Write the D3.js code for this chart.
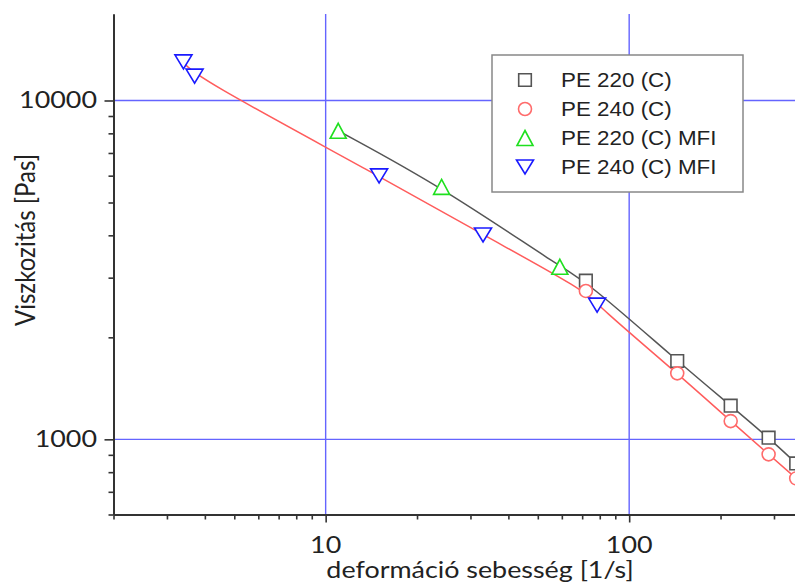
<!DOCTYPE html>
<html>
<head>
<meta charset="utf-8">
<script src="https://cdn.jsdelivr.net/npm/d3@7"></script>
<style>
  body { margin: 0; background: #fff; }
  svg { display: block; }
</style>
</head>
<body>
<svg id="chart" width="795" height="584"></svg>
<script>
/* global d3 */

// shear rate [1/s] and viscosity [Pas]
const pe220Rate = [72, 144, 216, 288, 355];
const pe220Visc = [2940, 1703, 1257, 1011, 849];
const pe240Rate = [72, 144, 216, 288, 355];
const pe240Visc = [2741, 1566, 1132, 903, 767];
const pe220MfiRate = [11.0, 24.1, 59.1];
const pe220MfiVisc = [8140, 5560, 3230];
const pe240MfiRate = [3.4, 3.7, 15.0, 33.0, 78.4];
const pe240MfiVisc = [13000, 11800, 5990, 4010, 2490];

const xMajor = [10, 100];
const xMinor = [2, 3, 4, 5, 6, 7, 8, 9, 20, 30, 40, 50, 60, 70, 80, 90, 200, 300, 400, 500];
const yMajor = [1000, 10000];
const yMinor = [600, 700, 800, 900, 2000, 3000, 4000, 5000, 6000, 7000, 8000, 9000];

const legendLabels = ['PE 220 (C)', 'PE 240 (C)', 'PE 220 (C) MFI', 'PE 240 (C) MFI'];

const svg = d3.select('#chart');
const x = d3.scaleLog().domain([2, 520]).range([113.5, 846.5]);
const y = d3.scaleLog().domain([600, 18000]).range([514.5, 14]);
const stretch = 1.12; // text in the picture is a bit wide

const gridColor = 'rgb(100, 100, 255)';
const axisColor = '#333';

// grid
const grid = svg.append('g');
grid.selectAll('line.gx').data(xMajor).enter().append('line')
  .attr('x1', d => x(d)).attr('x2', d => x(d))
  .attr('y1', y.range()[0]).attr('y2', y.range()[1])
  .attr('stroke', gridColor).attr('stroke-width', 1.4);
grid.selectAll('line.gy').data(yMajor).enter().append('line')
  .attr('x1', x.range()[0]).attr('x2', x.range()[1])
  .attr('y1', d => y(d)).attr('y2', d => y(d))
  .attr('stroke', gridColor).attr('stroke-width', 1.4);

// fitted curves
const zip = (xs, ys) => xs.map((v, i) => [v, ys[i]]);
const line = d3.line().x(d => x(d[0])).y(d => y(d[1])).curve(d3.curveBasis);
const fit220 = zip(pe220MfiRate, pe220MfiVisc).concat(zip(pe220Rate, pe220Visc))
  .sort((a, b) => a[0] - b[0]);
const fit240 = zip(pe240MfiRate, pe240MfiVisc).concat(zip(pe240Rate, pe240Visc))
  .sort((a, b) => a[0] - b[0]);
svg.append('path').datum(fit220).attr('d', line)
  .attr('fill', 'none').attr('stroke', '#555').attr('stroke-width', 1.5);
svg.append('path').datum(fit240).attr('d', line)
  .attr('fill', 'none').attr('stroke', '#ff5c5c').attr('stroke-width', 1.5);

// markers
const shapes = {
  square: 'M-6.3,-6.3H6.3V6.3H-6.3Z',
  circle: d3.symbol(d3.symbolCircle, Math.PI * 6.5 * 6.5)(),
  up: 'M0,-7.5L8,7.5L-8,7.5Z',
  down: 'M-8.5,-7L8.5,-7L0,7Z',
};
const series = [
  { rate: pe220Rate, visc: pe220Visc, shape: 'square', color: '#555' },
  { rate: pe240Rate, visc: pe240Visc, shape: 'circle', color: '#ff6b6b' },
  { rate: pe220MfiRate, visc: pe220MfiVisc, shape: 'up', color: '#1ee01e' },
  { rate: pe240MfiRate, visc: pe240MfiVisc, shape: 'down', color: '#1a1aff' },
];
series.forEach((s) => {
  svg.append('g').selectAll('path').data(zip(s.rate, s.visc)).enter().append('path')
    .attr('d', shapes[s.shape])
    .attr('transform', d => `translate(${x(d[0])},${y(d[1])})`)
    .attr('fill', '#fff').attr('stroke', s.color).attr('stroke-width', 1.6);
});

// axes
function styleAxis(g) {
  g.selectAll('.domain').attr('stroke', axisColor).attr('stroke-width', 2);
  g.selectAll('.tick line').attr('stroke', axisColor).attr('stroke-width', 1.6);
}
const xAxisY = y.range()[0];
const yAxisX = x.range()[0];
svg.append('g').attr('transform', `translate(0,${xAxisY})`)
  .call(d3.axisBottom(x).tickValues(xMinor).tickSize(5).tickSizeOuter(0).tickFormat(''))
  .call(styleAxis);
svg.append('g').attr('transform', `translate(0,${xAxisY})`)
  .call(d3.axisBottom(x).tickValues(xMajor).tickSize(8).tickSizeOuter(0).tickFormat(''))
  .call(styleAxis);
svg.append('g').attr('transform', `translate(${yAxisX},0)`)
  .call(d3.axisLeft(y).tickValues(yMinor).tickSize(5).tickSizeOuter(0).tickFormat(''))
  .call(styleAxis);
svg.append('g').attr('transform', `translate(${yAxisX},0)`)
  .call(d3.axisLeft(y).tickValues(yMajor).tickSize(9).tickSizeOuter(0).tickFormat(''))
  .call(styleAxis);

// tick labels
const labelFont = 'Lato, Carlito, sans-serif';
svg.append('g').selectAll('text').data(xMajor).enter().append('text')
  .attr('transform', d => `translate(${x(d)},553) scale(${stretch},1)`)
  .attr('text-anchor', 'middle')
  .attr('font-family', labelFont).attr('font-size', 24).attr('fill', '#222')
  .text(d => d);
svg.append('g').selectAll('text').data(yMajor).enter().append('text')
  .attr('transform', d => `translate(97,${y(d) + 8}) scale(${stretch},1)`)
  .attr('text-anchor', 'end')
  .attr('font-family', labelFont).attr('font-size', 24).attr('fill', '#222')
  .text(d => d);

// axis titles
svg.append('text')
  .attr('transform', `translate(480,578) scale(${stretch},1)`)
  .attr('text-anchor', 'middle')
  .attr('font-family', labelFont).attr('font-size', 24).attr('fill', '#222')
  .text('deformáció sebesség [1/s]');
svg.append('text')
  .attr('transform', `translate(35,240) rotate(-90) scale(1,${stretch})`)
  .attr('text-anchor', 'middle')
  .attr('font-family', labelFont).attr('font-size', 24).attr('fill', '#222')
  .text('Viszkozitás [Pas]');

// legend
const legend = svg.append('g').attr('transform', 'translate(492,55)');
legend.append('rect')
  .attr('width', 251).attr('height', 137)
  .attr('fill', '#fff').attr('stroke', '#888').attr('stroke-width', 1.5);
const rows = legend.selectAll('g.row').data(series).enter().append('g')
  .attr('transform', (d, i) => `translate(0,${25 + i * 29})`);
rows.append('path')
  .attr('d', d => shapes[d.shape])
  .attr('transform', 'translate(33,0)')
  .attr('fill', '#fff').attr('stroke', d => d.color).attr('stroke-width', 1.6);
rows.append('text')
  .attr('transform', `translate(69,7) scale(${stretch},1)`)
  .attr('font-family', '"Liberation Sans", Arial, sans-serif').attr('font-size', 20)
  .attr('fill', '#222')
  .text((d, i) => legendLabels[i]);
</script>
</body>
</html>
